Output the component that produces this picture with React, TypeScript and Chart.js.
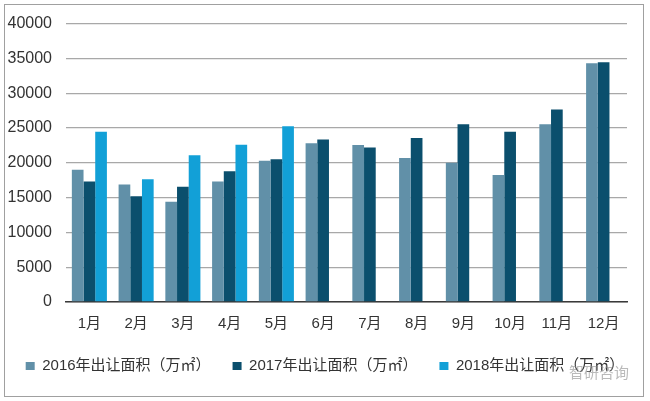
import { useEffect, useRef } from 'react';
import { Chart, registerables } from 'chart.js';

Chart.register(...registerables);

const months = ['1月', '2月', '3月', '4月', '5月', '6月', '7月', '8月', '9月', '10月', '11月', '12月'];

const area2016 = [19000, 16900, 14400, 17300, 20300, 22800, 22550, 20700, 20000, 18250, 25550, 34300];
const area2017 = [17300, 15200, 16550, 18800, 20500, 23350, 22200, 23550, 25550, 24450, 27650, 34450];
const area2018 = [24450, 17650, 21100, 22600, 25250, null, null, null, null, null, null, null];

const seriesNames = ['2016年出让面积（万㎡）', '2017年出让面积（万㎡）', '2018年出让面积（万㎡）'];

const FONT = '"Liberation Sans", Arial, "Noto Sans CJK SC", sans-serif';

const LandChart = () => {
  const chartRef = useRef<HTMLCanvasElement>(null);
  const chartInstance = useRef<Chart | null>(null);

  useEffect(() => {
    if (!chartRef.current) return;
    const ctx = chartRef.current.getContext('2d');
    if (!ctx) return;

    if (chartInstance.current) {
      chartInstance.current.destroy();
    }

    chartInstance.current = new Chart(ctx, {
      type: 'bar',
      data: {
        labels: months,
        datasets: [
          { label: seriesNames[0], data: area2016, backgroundColor: '#6190a8' },
          { label: seriesNames[1], data: area2017, backgroundColor: '#0b4f6d' },
          { label: seriesNames[2], data: area2018, backgroundColor: '#12a0d7' },
        ],
      },
      options: {
        animation: false,
        responsive: false,
        devicePixelRatio: 1,
        layout: { padding: { top: 22, right: 0, left: 0, bottom: 17.5 } },
        datasets: {
          bar: { categoryPercentage: 0.75, barPercentage: 1 },
        },
        plugins: {
          tooltip: { enabled: false },
          legend: {
            position: 'bottom',
            labels: {
              boxWidth: 9,
              boxHeight: 8,
              padding: 22,
              color: '#333',
              font: { family: FONT, size: 15 },
            },
          },
        },
        scales: {
          x: {
            grid: { display: false, drawTicks: false },
            border: { color: '#3a3a3a', width: 1.5 },
            ticks: { color: '#333', padding: 13, font: { family: FONT, size: 15 } },
            afterFit: (scale) => {
              scale.height = scale.height - 9.5;
            },
          },
          y: {
            min: 0,
            max: 40000,
            afterFit: (scale) => {
              scale.width = 66;
            },
            grid: { color: '#a8a8a8', lineWidth: 1.3, drawTicks: false },
            border: { display: false },
            ticks: {
              stepSize: 5000,
              color: '#333',
              padding: 14,
              font: { family: FONT, size: 16 },
              callback: (value) => String(value),
            },
          },
          // empty right-hand spacer so the plot ends where the original does
          spacer: {
            type: 'linear',
            position: 'right',
            grid: { display: false, drawTicks: false },
            border: { display: false },
            ticks: { display: false },
            afterFit: (scale) => {
              scale.width = 23;
            },
          },
        },
      },
    });

    return () => {
      if (chartInstance.current) {
        chartInstance.current.destroy();
        chartInstance.current = null;
      }
    };
  }, []);

  return (
    <div style={{ position: 'fixed', left: 0, top: 0, width: 650, height: 401, background: '#fff' }}>
      <canvas ref={chartRef} width={650} height={401} style={{ position: 'absolute', left: 0, top: 0 }} />
      <div
        style={{
          position: 'absolute',
          left: 4,
          top: 4,
          width: 638,
          height: 391,
          border: '1px solid #a0a0a0',
          pointerEvents: 'none',
        }}
      />
      <div
        style={{
          position: 'absolute',
          left: 569,
          top: 361,
          fontFamily: '"Noto Sans CJK SC", sans-serif',
          fontSize: 15,
          color: 'rgba(140,140,140,0.6)',
          pointerEvents: 'none',
        }}
      >
        智研咨询
      </div>
    </div>
  );
};

export default function App() {
  return <LandChart />;
}
